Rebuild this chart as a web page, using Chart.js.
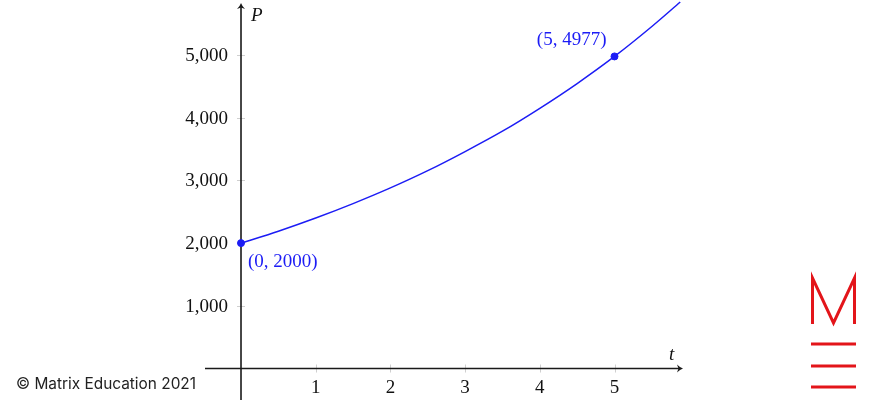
<!DOCTYPE html>
<html>
<head>
<meta charset="utf-8">
<script src="https://cdn.jsdelivr.net/npm/chart.js@4"></script>
<style>
  body { margin: 0; background: #fff; }
  canvas { display: block; }
</style>
</head>
<body>
<canvas id="growthChart" width="870" height="400"></canvas>
<script>
// P(t) curve
const tValues = [0, 0.5, 1, 1.5, 2, 2.5, 3, 3.5, 4, 4.5, 5, 5.5, 5.88];
const pValues = [2000, 2190, 2400, 2630, 2880, 3155, 3460, 3785, 4150, 4545, 4977, 5455, 5845];

// marked points and their labels
const markT = [0, 5];
const markP = [2000, 4977];
const markLabels = ['(0, 2000)', '(5, 4977)'];

// tick labels
const xTicks = [1, 2, 3, 4, 5];
const yTicks = [1000, 2000, 3000, 4000, 5000];
const yTickLabels = ['1,000', '2,000', '3,000', '4,000', '5,000'];

const BLUE = '#1c1cf5';
const SERIF = '19px "Liberation Serif", "DejaVu Serif", serif';

function arrow(ctx, x, y, dir) {
    // small latex-style arrow head, dir: 'up' or 'right'
    ctx.save();
    ctx.translate(x, y);
    if (dir === 'up') ctx.rotate(-Math.PI / 2);
    ctx.beginPath();
    ctx.moveTo(0, 0);
    ctx.quadraticCurveTo(-3, 1, -6, 4);
    ctx.lineTo(-4.5, 0);
    ctx.lineTo(-6, -4);
    ctx.quadraticCurveTo(-3, -1, 0, 0);
    ctx.fill();
    ctx.restore();
}

const axesPlugin = {
    id: 'axes',
    beforeDatasetsDraw(chart) {
        const ctx = chart.ctx;
        const xs = chart.scales.x, ys = chart.scales.y;
        const x0 = xs.getPixelForValue(0), y0 = ys.getPixelForValue(0);
        const area = chart.chartArea;
        ctx.save();

        // light tick marks
        ctx.strokeStyle = '#cfcfcf';
        ctx.lineWidth = 1;
        xTicks.forEach(t => {
            const px = Math.round(xs.getPixelForValue(t)) + 0.5;
            ctx.beginPath(); ctx.moveTo(px, y0 - 4); ctx.lineTo(px, y0 + 4); ctx.stroke();
        });
        yTicks.forEach(p => {
            const py = Math.round(ys.getPixelForValue(p)) + 0.5;
            ctx.beginPath(); ctx.moveTo(x0 - 4, py); ctx.lineTo(x0 + 4, py); ctx.stroke();
        });

        // axis lines
        ctx.strokeStyle = '#1a1a1a';
        ctx.fillStyle = '#1a1a1a';
        ctx.lineWidth = 1.6;
        ctx.beginPath(); ctx.moveTo(area.left, y0); ctx.lineTo(area.right - 3, y0); ctx.stroke();
        ctx.beginPath(); ctx.moveTo(x0, area.bottom); ctx.lineTo(x0, area.top + 6); ctx.stroke();
        arrow(ctx, area.right, y0, 'right');
        arrow(ctx, x0, area.top + 3, 'up');

        // tick labels
        ctx.font = SERIF;
        ctx.fillStyle = '#111';
        ctx.textAlign = 'center';
        ctx.textBaseline = 'middle';
        xTicks.forEach(t => ctx.fillText(String(t), xs.getPixelForValue(t), y0 + 19));
        ctx.textAlign = 'right';
        yTicks.forEach((p, i) => ctx.fillText(yTickLabels[i], x0 - 13, ys.getPixelForValue(p) + 1));

        // axis names
        ctx.font = 'italic ' + SERIF;
        ctx.textAlign = 'left';
        ctx.fillText('P', x0 + 10, area.top + 16);
        ctx.fillText('t', area.right - 14, y0 - 14);
        ctx.restore();
    },
    afterDatasetsDraw(chart) {
        const ctx = chart.ctx;
        const xs = chart.scales.x, ys = chart.scales.y;
        ctx.save();
        ctx.font = SERIF;
        ctx.fillStyle = BLUE;
        ctx.textBaseline = 'middle';
        ctx.textAlign = 'left';
        ctx.fillText(markLabels[0], xs.getPixelForValue(markT[0]) + 7, ys.getPixelForValue(markP[0]) + 19);
        ctx.textAlign = 'right';
        ctx.fillText(markLabels[1], xs.getPixelForValue(markT[1]) - 8, ys.getPixelForValue(markP[1]) - 16);

        // copyright
        ctx.fillStyle = '#222';
        ctx.font = '15.4px Inter, "Noto Sans", sans-serif';
        ctx.textAlign = 'left';
        ctx.fillText('\u00a9 Matrix Education 2021', 16, 384);

        // logo
        ctx.strokeStyle = '#e3151a';
        ctx.lineWidth = 3;
        ctx.beginPath();
        ctx.moveTo(812.5, 324); ctx.lineTo(812.5, 278);
        ctx.lineTo(833.5, 323); ctx.lineTo(854.5, 278); ctx.lineTo(854.5, 324);
        ctx.stroke();
        [344, 366, 387].forEach(y => {
            ctx.beginPath(); ctx.moveTo(811, y); ctx.lineTo(856, y); ctx.stroke();
        });
        ctx.restore();
    }
};

const ctx = document.getElementById('growthChart').getContext('2d');
new Chart(ctx, {
    type: 'scatter',
    data: {
        datasets: [{
            type: 'line',
            data: tValues.map((t, i) => ({ x: t, y: pValues[i] })),
            borderColor: BLUE,
            borderWidth: 1.5,
            pointRadius: 0,
            cubicInterpolationMode: 'monotone',
            fill: false,
            clip: false
        }, {
            data: markT.map((t, i) => ({ x: t, y: markP[i] })),
            backgroundColor: BLUE,
            borderColor: BLUE,
            pointRadius: 3.5
        }]
    },
    options: {
        responsive: false,
        animation: false,
        layout: { autoPadding: false, padding: { left: 205, right: 187, top: 0, bottom: 0 } },
        plugins: { legend: { display: false }, tooltip: { enabled: false } },
        scales: {
            x: { type: 'linear', min: -0.482, max: 5.917, display: false },
            y: { type: 'linear', min: -502, max: 5877, display: false }
        }
    },
    plugins: [axesPlugin]
});
</script>
</body>
</html>
